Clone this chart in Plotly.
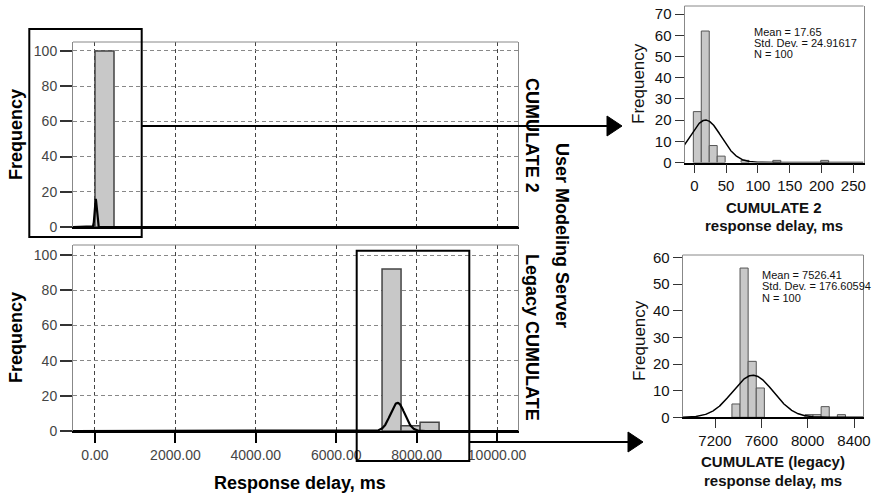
import numpy as np
import plotly.graph_objects as go

W, H = 874, 495

# ---------------- data ----------------
# Left panels (overview, bin width ~473 ms)
tl_bin_centers = [236.5]
tl_counts = [100]
bl_bin_centers = [7376.5, 7849.5, 8322.5]
bl_counts = [92, 3, 5]
left_bin_width = 473
left_curve_peak = [16, 16]  # peak heights of the fitted curves as drawn

# Right panels (detail histograms)
tr_bin_centers = [4.75, 17.25, 29.75, 42.25, 79.75, 129.75, 205.0]
tr_counts = [24, 62, 8, 3, 1, 1, 1]
tr_bin_width = 12.5
br_bin_centers = [7381, 7451, 7521, 7591, 8011, 8081, 8151, 8291]
br_counts = [5, 56, 21, 11, 1, 1, 4, 1]
br_bin_width = 70

# Summary statistics (shown in the chart)
c2_mean, c2_sd, c2_n = 17.65, 24.91617, 100
lg_mean, lg_sd, lg_n = 7526.41, 176.60594, 100

left_xticks = [0, 2000, 4000, 6000, 8000, 10000]
left_xticktext = ["0.00", "2000.00", "4000.00", "6000.00", "8000.00", "10000.00"]
left_yticks = [0, 20, 40, 60, 80, 100]
tr_xticks = [0, 50, 100, 150, 200, 250]
tr_yticks = [0, 10, 20, 30, 40, 50, 60, 70]
br_xticks = [7200, 7600, 8000, 8400]
br_yticks = [0, 10, 20, 30, 40, 50, 60]

# ---------------- helpers ----------------
def fx(px):
    return px / W

def fy(py):
    return 1 - py / H

FONT = "Liberation Sans, Arial, sans-serif"
BAR_FILL = "#c8c8c8"

def normal_curve(mean, sd, peak, lo, hi):
    x = np.union1d(np.linspace(lo, hi, 800), np.linspace(mean - 6 * sd, mean + 6 * sd, 200))
    x = x[(x >= lo) & (x <= hi)]
    y = peak * np.exp(-0.5 * ((x - mean) / sd) ** 2)
    return x, y

# axis ranges
TL_X = [-547, 10522]
TL_Y = [0, 105.1]
BL_Y = [0, 105.7]
TR_X = [-15.4, 266]
TR_Y = [0, 73.8]
BR_X = [6921, 8480]
BR_Y = [0, 60.9]

fig = go.Figure()

# ---- top-left ----
fig.add_trace(go.Bar(x=tl_bin_centers, y=tl_counts, width=left_bin_width,
                     marker=dict(color=BAR_FILL, line=dict(color="#444", width=1.5)),
                     xaxis="x", yaxis="y", showlegend=False))
cx, cy = normal_curve(c2_mean, c2_sd, left_curve_peak[0], TL_X[0], TL_X[1])
fig.add_trace(go.Scatter(x=cx, y=cy, mode="lines", line=dict(color="black", width=2.2),
                         xaxis="x", yaxis="y", showlegend=False))

# ---- bottom-left ----
fig.add_trace(go.Bar(x=bl_bin_centers, y=bl_counts, width=left_bin_width,
                     marker=dict(color=BAR_FILL, line=dict(color="#444", width=1.5)),
                     xaxis="x2", yaxis="y2", showlegend=False))
cx, cy = normal_curve(lg_mean, lg_sd, left_curve_peak[1], TL_X[0], TL_X[1])
fig.add_trace(go.Scatter(x=cx, y=cy, mode="lines", line=dict(color="black", width=2.2),
                         xaxis="x2", yaxis="y2", showlegend=False))

# ---- top-right ----
fig.add_trace(go.Bar(x=tr_bin_centers, y=tr_counts, width=tr_bin_width,
                     marker=dict(color=BAR_FILL, line=dict(color="#555", width=1)),
                     xaxis="x3", yaxis="y3", showlegend=False))
amp_tr = c2_n * tr_bin_width / (c2_sd * np.sqrt(2 * np.pi))
cx, cy = normal_curve(c2_mean, c2_sd, amp_tr, TR_X[0], TR_X[1])
fig.add_trace(go.Scatter(x=cx, y=cy, mode="lines", line=dict(color="black", width=1.5),
                         xaxis="x3", yaxis="y3", showlegend=False))

# ---- bottom-right ----
fig.add_trace(go.Bar(x=br_bin_centers, y=br_counts, width=br_bin_width,
                     marker=dict(color=BAR_FILL, line=dict(color="#555", width=1)),
                     xaxis="x4", yaxis="y4", showlegend=False))
amp_br = lg_n * br_bin_width / (lg_sd * np.sqrt(2 * np.pi))
cx, cy = normal_curve(lg_mean, lg_sd, amp_br, BR_X[0], BR_X[1])
fig.add_trace(go.Scatter(x=cx, y=cy, mode="lines", line=dict(color="black", width=1.5),
                         xaxis="x4", yaxis="y4", showlegend=False))

xgrid = dict(showgrid=True, gridcolor="#444", griddash="4px,3px", gridwidth=1)
ygrid = dict(showgrid=True, gridcolor="#888", griddash="4px,3px", gridwidth=1)

def left_y(domain, rng):
    return dict(domain=domain, range=rng, tickmode="array", tickvals=left_yticks,
                ticks="outside", ticklen=12, tickwidth=2, tickcolor="#333",
                tickfont=dict(family=FONT, size=14, color="#444"),
                showline=True, linecolor="#888", linewidth=1, mirror=True,
                zeroline=False, automargin=False, **ygrid)

layout = dict(
    template="none",
    width=W, height=H, margin=dict(l=0, r=0, t=0, b=0, pad=0, autoexpand=False),
    paper_bgcolor="white", plot_bgcolor="white", barmode="overlay",
    font=dict(family=FONT), showlegend=False,
    xaxis=dict(domain=[fx(73), fx(518)], range=TL_X, anchor="y",
               tickmode="array", tickvals=left_xticks, showticklabels=False, ticks="",
               showline=True, linecolor="black", linewidth=2, zeroline=False,
               automargin=False, **xgrid),
    yaxis=left_y([fy(227), fy(42)], TL_Y) | dict(anchor="x"),
    xaxis2=dict(domain=[fx(73), fx(518)], range=TL_X, anchor="y2",
                tickmode="array", tickvals=left_xticks, ticktext=left_xticktext,
                ticks="outside", ticklen=10, tickwidth=2, tickcolor="black",
                tickfont=dict(family=FONT, size=14, color="#444"),
                showline=True, linecolor="black", linewidth=2, zeroline=False,
                automargin=False, **xgrid),
    yaxis2=left_y([fy(431), fy(245)], BL_Y) | dict(anchor="x2"),
    xaxis3=dict(domain=[fx(684.5), fx(863.5)], range=TR_X, anchor="y3",
                tickmode="array", tickvals=tr_xticks, ticks="outside", ticklen=9,
                tickcolor="#333", tickfont=dict(family=FONT, size=15, color="#111"),
                showline=True, linecolor="black", linewidth=1.5, showgrid=False,
                zeroline=False, automargin=False),
    yaxis3=dict(domain=[fy(162.5), fy(6)], range=TR_Y, anchor="x3",
                tickmode="array", tickvals=tr_yticks, ticks="outside", ticklen=9,
                tickcolor="#333", tickfont=dict(family=FONT, size=15, color="#111"),
                showline=True, linecolor="#888", linewidth=1, mirror=True,
                showgrid=False, zeroline=False, automargin=False),
    xaxis4=dict(domain=[fx(682.7), fx(863.3)], range=BR_X, anchor="y4",
                tickmode="array", tickvals=br_xticks, ticks="outside", ticklen=9,
                tickcolor="#333", tickfont=dict(family=FONT, size=15, color="#111"),
                showline=True, linecolor="black", linewidth=1.5, showgrid=False,
                zeroline=False, automargin=False),
    yaxis4=dict(domain=[fy(417.3), fy(255)], range=BR_Y, anchor="x4",
                tickmode="array", tickvals=br_yticks, ticks="outside", ticklen=9,
                tickcolor="#333", tickfont=dict(family=FONT, size=15, color="#111"),
                showline=True, linecolor="#888", linewidth=1, mirror=True,
                showgrid=False, zeroline=False, automargin=False),
)
fig.update_layout(**layout)

# top frame edges (gray)
shapes = []
for xr, yr in [("x", "y"), ("x2", "y2"), ("x3", "y3"), ("x4", "y4")]:
    shapes.append(dict(type="line", xref=f"{xr} domain", yref=f"{yr} domain",
                       x0=0, x1=1, y0=1, y1=1, line=dict(color="#888", width=1)))

# callout rectangles
for (x0, y0, x1, y1) in [(29.3, 29, 141.7, 237), (356.7, 250.7, 469.3, 461)]:
    shapes.append(dict(type="rect", xref="paper", yref="paper",
                       x0=fx(x0), x1=fx(x1), y0=fy(y1), y1=fy(y0),
                       line=dict(color="black", width=2), fillcolor="rgba(0,0,0,0)"))

# arrows
def arrow(xs, xe, yc):
    out = [dict(type="line", xref="paper", yref="paper", x0=fx(xs), x1=fx(xe - 12),
                y0=fy(yc), y1=fy(yc), line=dict(color="black", width=2))]
    path = (f"M {fx(xe-15)},{fy(yc-10)} L {fx(xe)},{fy(yc)} "
            f"L {fx(xe-15)},{fy(yc+10)} Z")
    out.append(dict(type="path", xref="paper", yref="paper", path=path,
                    fillcolor="black", line=dict(color="black", width=1)))
    return out

shapes += arrow(142, 622, 126)
shapes += arrow(469, 643, 442)
fig.update_layout(shapes=shapes)

# ---------------- text ----------------
ann = []
def text(t, x, y, size, bold=False, angle=0, color="black", xanchor="center"):
    s = f"<b>{t}</b>" if bold else t
    ann.append(dict(text=s, x=fx(x), y=fy(y), xref="paper", yref="paper",
                    showarrow=False, textangle=angle, xanchor=xanchor, yanchor="middle",
                    font=dict(family=FONT, size=size, color=color)))

text("Frequency", 15.5, 134.5, 18, bold=True, angle=-90)
text("Frequency", 15.5, 337.5, 18, bold=True, angle=-90)
text("Response delay, ms", 300, 483, 18, bold=True)
text("CUMULATE 2", 532, 135, 18, bold=True, angle=90)
text("User Modeling Server", 562, 235, 18, bold=True, angle=90)
text("Legacy CUMULATE", 532, 337, 18, bold=True, angle=90)

text("Frequency", 639, 84, 17, angle=-90, color="#111")
text("Frequency", 639, 341, 17, angle=-90, color="#111")
text("CUMULATE 2", 774, 207, 15, bold=True, color="#111")
text("response delay, ms", 774, 225, 15, bold=True, color="#111")
text("CUMULATE (legacy)", 773, 461.7, 15, bold=True, color="#111")
text("response delay, ms", 773, 480, 15, bold=True, color="#111")

for i, line in enumerate([f"Mean = {c2_mean}", f"Std. Dev. = {c2_sd}", f"N = {c2_n}"]):
    text(line, 752, 31.7 + 11.3 * i, 11, color="#111", xanchor="left")
for i, line in enumerate([f"Mean = {lg_mean}", f"Std. Dev. = {lg_sd}", f"N = {lg_n}"]):
    text(line, 760, 275 + 11.3 * i, 11, color="#111", xanchor="left")

fig.update_layout(annotations=ann)
fig.write_html("out.html")
